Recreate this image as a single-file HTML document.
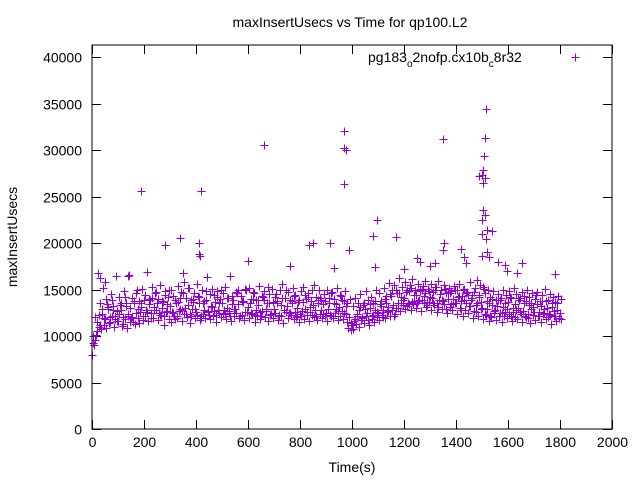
<!DOCTYPE html>
<html><head><meta charset="utf-8"><style>
body{margin:0;background:#fff}
svg{display:block;font-family:"Liberation Sans",sans-serif}
</style></head><body>
<svg id="chart" width="640" height="480">
<text x="350" y="27" font-size="14" text-anchor="middle">maxInsertUsecs vs Time for qp100.L2</text>
<text transform="translate(17,237) rotate(-90)" font-size="14" text-anchor="middle">maxInsertUsecs</text>
<text x="352" y="472" font-size="14" text-anchor="middle">Time(s)</text>
<g id="axes"></g>
<g id="pts"></g>
<rect x="92" y="45" width="520" height="384" fill="none" stroke="#000"/>
<g>
<text x="368" y="62" font-size="14">pg183<tspan font-size="10" dy="5">o</tspan><tspan dy="-5">2nofp.cx10b</tspan><tspan font-size="10" dy="5">c</tspan><tspan dy="-5">8r32</tspan></text>
<path d="M571.5,57.5h8M575.5,53.5v8" stroke="#9400d3"/>
</g>
</svg>
<script>
const xTicks=[0,200,400,600,800,1000,1200,1400,1600,1800,2000];
const yTicks=[0,5000,10000,15000,20000,25000,30000,35000,40000];
const seriesA=[8.0,9.6,10.5,11.2,12.4,11.8,12.9,11.5,13.2,12.1,11.6,12.8,11.3,13.5,12.2,11.9,13.8,12.5,11.4,13.1,13.9,12.6,13.4,14.1,12.8,13.6,12.3,13.0,14.4,12.7,13.2,12.5,11.8,13.7,12.9,14.6,12.4,13.3,12.1,14.0,12.6,13.5,11.9,12.8,13.9,12.3,13.1,12.7,14.2,12.5,13.6,12.4,13.0,12.2,14.3,12.9,13.4,12.1,13.7,12.6,13.1,12.5,14.0,12.8,13.3,12.2,13.9,12.7,13.5,12.4,12.9,13.6,12.3,14.1,12.8,13.2,12.5,13.8,12.6,13.0,12.4,13.7,12.9,14.2,12.6,13.3,12.1,13.9,12.8,13.4,12.5,13.6,12.2,14.0,12.9,13.1,12.7,13.8,11.5,12.0,11.2,11.8,12.4,13.1,12.0,12.9,11.7,13.4,12.3,12.8,12.5,13.2,12.0,13.6,12.7,14.3,12.2,13.0,14.6,13.5,14.1,13.2,14.8,13.7,14.4,13.5,15.1,13.9,14.6,13.3,14.2,13.6,14.9,13.1,14.5,13.8,12.9,14.7,13.4,14.0,13.5,14.3,12.8,13.9,14.6,13.2,14.1,12.7,13.6,14.4,13.0,12.4,13.8,12.1,13.3,12.8,13.9,12.5,13.1,12.6,13.7,12.2,13.0,12.8,14.1,12.4,13.5,12.0,13.3,12.9,12.6,13.4,12.1,13.8,12.5,13.0,12.3,13.6,12.2,12.8,12.5];
const seriesB=[9.2,10.1,11.0,10.8,11.9,10.9,11.4,12.2,11.0,11.6,12.4,11.1,11.8,10.9,11.5,12.0,11.3,11.9,12.6,11.7,12.1,11.6,12.5,11.9,12.8,11.7,12.3,11.2,12.6,11.8,11.5,12.2,11.9,12.7,11.6,12.4,12.0,11.4,12.9,11.9,12.3,11.7,12.4,11.9,12.6,11.8,12.2,11.5,12.8,12.0,12.4,11.8,12.7,11.6,12.1,12.5,11.9,12.3,11.7,12.6,11.9,12.4,11.5,12.2,11.8,12.7,12.0,11.6,12.3,11.9,12.5,11.7,12.1,11.4,12.6,11.9,12.3,11.8,12.0,11.5,12.2,11.8,12.6,11.6,12.3,12.0,11.7,12.4,11.9,12.1,11.6,12.3,11.9,12.5,11.7,12.2,11.8,12.4,10.9,10.6,10.8,11.3,11.0,11.7,11.4,12.1,11.2,11.8,11.5,12.0,11.7,12.3,11.9,12.6,12.2,12.8,12.4,13.0,12.7,13.3,12.9,13.6,12.8,13.4,13.0,13.8,12.7,13.5,13.1,13.7,12.8,13.3,12.6,13.9,12.9,13.4,12.5,13.1,12.8,13.6,12.4,13.0,12.1,12.8,12.5,13.2,11.9,12.6,12.2,12.9,11.8,12.3,11.6,12.0,12.5,11.7,12.2,11.5,12.1,11.9,12.4,11.6,12.0,11.8,12.6,11.5,12.2,11.9,11.4,12.3,11.7,12.1,11.5,12.4,11.8,12.0,11.3,12.2,11.6,11.9,11.8];
const seriesC=[10.0,12.0,16.8,13.5,15.2,14.0,13.1,14.5,12.8,16.5,14.2,13.6,14.8,13.2,16.6,14.1,13.5,14.9,13.8,15.1,14.4,16.9,13.9,15.3,14.6,14.0,15.5,13.7,14.8,14.2,15.0,14.3,13.6,15.4,14.7,15.8,14.1,15.2,13.9,14.6,15.6,14.2,14.9,13.8,16.3,14.5,15.1,13.7,14.8,14.0,14.6,15.3,14.1,16.5,13.9,14.7,15.0,14.3,13.8,14.9,15.2,14.0,14.6,13.9,15.4,14.3,14.8,13.6,14.5,15.1,14.2,13.8,14.9,15.6,14.1,14.7,13.9,15.2,14.4,13.7,14.8,15.3,14.0,14.6,13.8,15.5,14.2,14.9,13.9,14.5,15.0,14.1,14.7,13.6,15.2,14.4,13.9,14.8,13.5,14.0,13.2,14.1,13.6,14.5,13.3,14.8,13.9,14.2,13.5,15.0,14.6,13.8,15.2,14.3,15.7,14.9,15.5,14.6,16.2,15.3,15.8,14.9,15.5,16.1,15.0,15.6,14.8,15.4,15.9,15.1,15.6,14.7,15.3,15.9,14.9,15.5,14.6,15.2,14.8,15.4,14.9,15.6,14.3,15.1,14.7,15.8,14.4,15.2,16.0,15.5,15.3,14.6,15.0,14.2,14.8,13.9,14.5,14.1,15.0,14.4,14.8,14.1,15.2,14.5,13.9,14.7,14.3,15.0,14.2,14.6,14.0,14.7,13.8,14.4,15.1,13.9,14.5,14.2,13.7,14.3,14.0];
const seriesD=[9.0,11.5,12.3,12.9,11.2,13.4,12.0,13.9,11.8,12.7,13.3,12.0,14.2,12.4,13.0,11.5,14.6,12.9,13.6,12.2,12.8,14.0,11.9,13.1,14.7,12.5,13.8,12.1,13.4,15.0,12.6,13.9,12.2,14.1,12.8,13.0,15.2,12.4,13.7,12.9,14.3,12.1,13.5,14.8,12.7,13.2,14.4,12.3,13.6,15.0,12.8,14.1,12.5,13.4,12.9,14.6,12.2,13.8,15.1,12.6,13.5,14.7,12.3,13.9,12.6,14.2,12.9,15.3,12.4,13.7,14.5,12.1,13.3,12.8,14.9,12.5,13.6,14.3,12.2,13.9,12.7,14.4,12.3,13.1,15.0,12.8,13.5,14.1,12.4,13.8,12.9,14.6,12.1,13.4,12.7,14.3,12.5,13.2,12.0,11.4,11.6,12.2,12.8,11.9,13.5,12.5,13.0,12.1,13.8,12.6,13.4,12.8,14.0,13.1,14.5,13.3,14.9,13.6,14.2,13.9,14.7,13.4,15.2,13.8,14.4,13.9,15.0,14.3,13.7,14.8,14.1,15.3,13.6,14.5,13.9,15.1,14.0,14.6,13.5,14.9,14.2,13.8,15.0,13.6,14.4,13.9,14.7,13.3,14.2,13.7,15.1,12.9,13.5,14.0,12.7,13.2,13.9,12.5,13.6,12.9,14.2,12.6,13.4,13.0,14.1,12.7,13.8,12.4,13.5,13.1,14.4,12.6,13.2,12.9,13.8,12.4,13.1,12.7,13.6];
const outlierTimes=[190,420,660,970,970,975,970,1350,1515,1510,1508,1505,1500,1510,1490,1505,1505,1510,1500,1520,1500,1515,1520,1525,1500,1095,1080,1170,1355,1350,1560,1590,1635,1655,1595,1780,1540,340,280,410,410,415,600,850,835,915,990,1420,1430,1440,1250,1300,1320,760,930,1090,1200,1260,30,50,140,350];
const outlierValues=[25.6,25.6,30.5,32.0,30.2,30.0,26.3,31.2,34.4,31.3,29.4,27.8,27.3,27.0,27.2,26.5,23.5,23.0,22.5,21.4,21.0,20.4,19.0,18.5,18.6,22.5,20.7,20.6,20.0,19.3,18.0,17.6,16.8,17.8,17.0,16.7,21.3,20.5,19.8,20.0,18.8,18.6,18.1,20.0,19.8,20.0,19.3,19.4,18.5,17.9,18.4,17.5,17.8,17.5,17.3,17.4,17.2,18.0,16.2,15.8,16.5,16.8];
const NS="http://www.w3.org/2000/svg";
const X=t=>92+t*520/2000, Y=v=>429-v*372/40000;
const ax=document.getElementById('axes');
function mk(tag,attrs,parent){const e=document.createElementNS(NS,tag);for(const k in attrs)e.setAttribute(k,attrs[k]);parent.appendChild(e);return e;}
xTicks.forEach(t=>{const x=Math.round(X(t))+0.5;
 const l=mk('path',{d:`M${x},429V420M${x},45V54`,stroke:'#000'},ax);
 
 
 const tx=mk('text',{x:x,y:447,'font-size':14,'text-anchor':'middle'},ax);tx.textContent=t;
 
 });
yTicks.forEach(v=>{const y=Math.round(Y(v))+0.5;
 const l=mk('path',{d:`M92,${y}H101M612,${y}H603`,stroke:'#000'},ax);
 
 
 const tx=mk('text',{x:82,y:y+5,'font-size':14,'text-anchor':'end'},ax);tx.textContent=v;
 
 });
const pts=document.getElementById('pts');let d='';
function add(t,v){const x=Math.round(X(t))+0.5,y=Math.round(Y(v*1000))+0.5;d+=`M${x-4},${y}h8M${x},${y-4}v8`;}
seriesA.forEach((v,i)=>add(i*10,v));
seriesB.forEach((v,i)=>add(i*10+5,v));
seriesC.forEach((v,i)=>add(i*10+2.5,v));
seriesD.forEach((v,i)=>add(i*10+7.5,v));
outlierTimes.forEach((t,i)=>add(t,outlierValues[i]));
const p=mk('path',{d:d,stroke:'#9400d3','stroke-width':1,fill:'none'},pts);


</script>
</body></html>
